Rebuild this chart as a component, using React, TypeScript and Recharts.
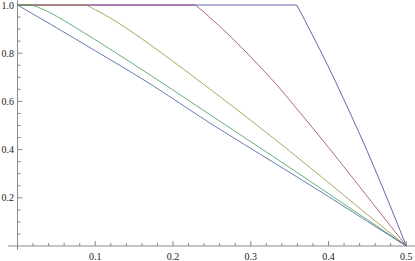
import React from "react";
import { LineChart, Line, XAxis, YAxis, ReferenceLine } from "recharts";

// Series (x positions and values)
const purpleX = [0, 0.359, 0.369, 0.379, 0.389, 0.399, 0.409, 0.419, 0.429, 0.439, 0.449, 0.459, 0.469, 0.479, 0.489, 0.5];
const purpleY = [1, 1, 0.94, 0.877, 0.814, 0.749, 0.682, 0.613, 0.543, 0.472, 0.399, 0.324, 0.247, 0.169, 0.089, 0];

const magentaX = [0, 0.2287, 0.24, 0.25, 0.2625, 0.275, 0.2875, 0.3, 0.3165, 0.3337, 0.355, 0.3775, 0.4, 0.42, 0.44, 0.46, 0.48, 0.5];
const magentaY = [1, 1, 0.97, 0.941, 0.904, 0.866, 0.826, 0.785, 0.728, 0.668, 0.586, 0.498, 0.409, 0.328, 0.246, 0.164, 0.082, 0];

const yellowX = [0, 0.0855, 0.1, 0.125, 0.15, 0.1665, 0.2, 0.25, 0.309, 0.35, 0.4, 0.45, 0.5];
const yellowY = [1, 1, 0.98, 0.935, 0.882, 0.845, 0.766, 0.645, 0.499, 0.394, 0.263, 0.13, 0];

const greenX = [0, 0.016, 0.03, 0.05, 0.075, 0.1, 0.1665, 0.2, 0.2694, 0.3337, 0.4, 0.45, 0.5];
const greenY = [1, 1, 0.986, 0.954, 0.906, 0.856, 0.718, 0.647, 0.498, 0.361, 0.217, 0.109, 0];

const blueX = [0, 0.05, 0.1, 0.1665, 0.25, 0.3337, 0.4, 0.45, 0.5];
const blueY = [1, 0.906, 0.81, 0.681, 0.505, 0.338, 0.205, 0.102, 0];

// Ticks
const xMajor = [0.1, 0.2, 0.3, 0.4, 0.5];
const xTicks = [0.02, 0.04, 0.06, 0.08, 0.1, 0.12, 0.14, 0.16, 0.18, 0.2, 0.22, 0.24, 0.26, 0.28, 0.3, 0.32, 0.34, 0.36, 0.38, 0.4, 0.42, 0.44, 0.46, 0.48, 0.5];
const yMajor = [0.2, 0.4, 0.6, 0.8, 1.0];
const yTicks = [0.05, 0.1, 0.15, 0.2, 0.25, 0.3, 0.35, 0.4, 0.45, 0.5, 0.55, 0.6, 0.65, 0.7, 0.75, 0.8, 0.85, 0.9, 0.95, 1.0];

const toPoints = (xs: number[], ys: number[]) => xs.map((x, i) => ({ x, y: ys[i] }));

const series = [
  { name: "s1", color: "#3F3D99", curve: "linear", data: toPoints(purpleX, purpleY) },
  { name: "s2", color: "#993D71", curve: "linear", data: toPoints(magentaX, magentaY) },
  { name: "s3", color: "#998B3D", curve: "monotone", data: toPoints(yellowX, yellowY) },
  { name: "s4", color: "#3D9956", curve: "monotone", data: toPoints(greenX, greenY) },
  { name: "s5", color: "#3D5A99", curve: "monotone", data: toPoints(blueX, blueY) },
];

const AXIS = "#8a8a8a";
const TEXT = "#222";
const FONT = "Liberation Serif, Times New Roman, serif";

const isMajor = (v: number, majors: number[]) => majors.some((m) => Math.abs(m - v) < 1e-6);

const XTick = (props: any) => {
  const { x, y, payload } = props;
  const major = isMajor(payload.value, xMajor);
  return (
    <g>
      <line x1={x} x2={x} y1={y} y2={y - (major ? 5 : 3)} stroke={AXIS} strokeWidth={1} />
      {major && (
        <text x={x} y={y + 14} textAnchor="middle" fontFamily={FONT} fontSize={10} style={{ fontSize: 10, fontFamily: FONT, fill: TEXT }}>
          {payload.value.toFixed(1)}
        </text>
      )}
    </g>
  );
};

const YTick = (props: any) => {
  const { x, y, payload } = props;
  const major = isMajor(payload.value, yMajor);
  return (
    <g>
      <line x1={x} x2={x + (major ? 5 : 3)} y1={y} y2={y} stroke={AXIS} strokeWidth={1} />
      {major && (
        <text x={x - 3.5} y={y + 3.5} textAnchor="end" fontFamily={FONT} fontSize={10} style={{ fontSize: 10, fontFamily: FONT, fill: TEXT }}>
          {payload.value.toFixed(1)}
        </text>
      )}
    </g>
  );
};

export default function App() {
  return (
    <div style={{ position: "absolute", left: 0, top: 0, width: 415, height: 261, background: "#fff", fontFamily: FONT }}>
      <LineChart width={415} height={261} margin={{ top: 5, right: 8.7, left: 0, bottom: 0 }} style={{ fontFamily: FONT }}>
        <XAxis
          dataKey="x"
          type="number"
          domain={[0, 0.5]}
          ticks={xTicks}
          interval={0}
          tick={<XTick />}
          tickLine={false}
          axisLine={false}
          tickSize={0}
          tickMargin={0}
          height={15}
          allowDecimals
        />
        <YAxis
          dataKey="y"
          type="number"
          domain={[0, 1]}
          ticks={yTicks}
          interval={0}
          tick={<YTick />}
          tickLine={false}
          axisLine={false}
          tickSize={0}
          tickMargin={0}
          width={17.5}
        />
        <ReferenceLine
          segment={[{ x: -0.0122, y: 0 }, { x: 0.511, y: 0 }]}
          stroke={AXIS}
          strokeWidth={1}
          ifOverflow="visible"
        />
        <ReferenceLine
          segment={[{ x: 0, y: -0.0166 }, { x: 0, y: 1.02 }]}
          stroke={AXIS}
          strokeWidth={1}
          ifOverflow="visible"
        />
        {series.map((s) => (
          <Line
            key={s.name}
            data={s.data}
            dataKey="y"
            type={s.curve as any}
            stroke={s.color}
            strokeWidth={0.8}
            dot={false}
            activeDot={false}
            isAnimationActive={false}
          />
        ))}
      </LineChart>
    </div>
  );
}
